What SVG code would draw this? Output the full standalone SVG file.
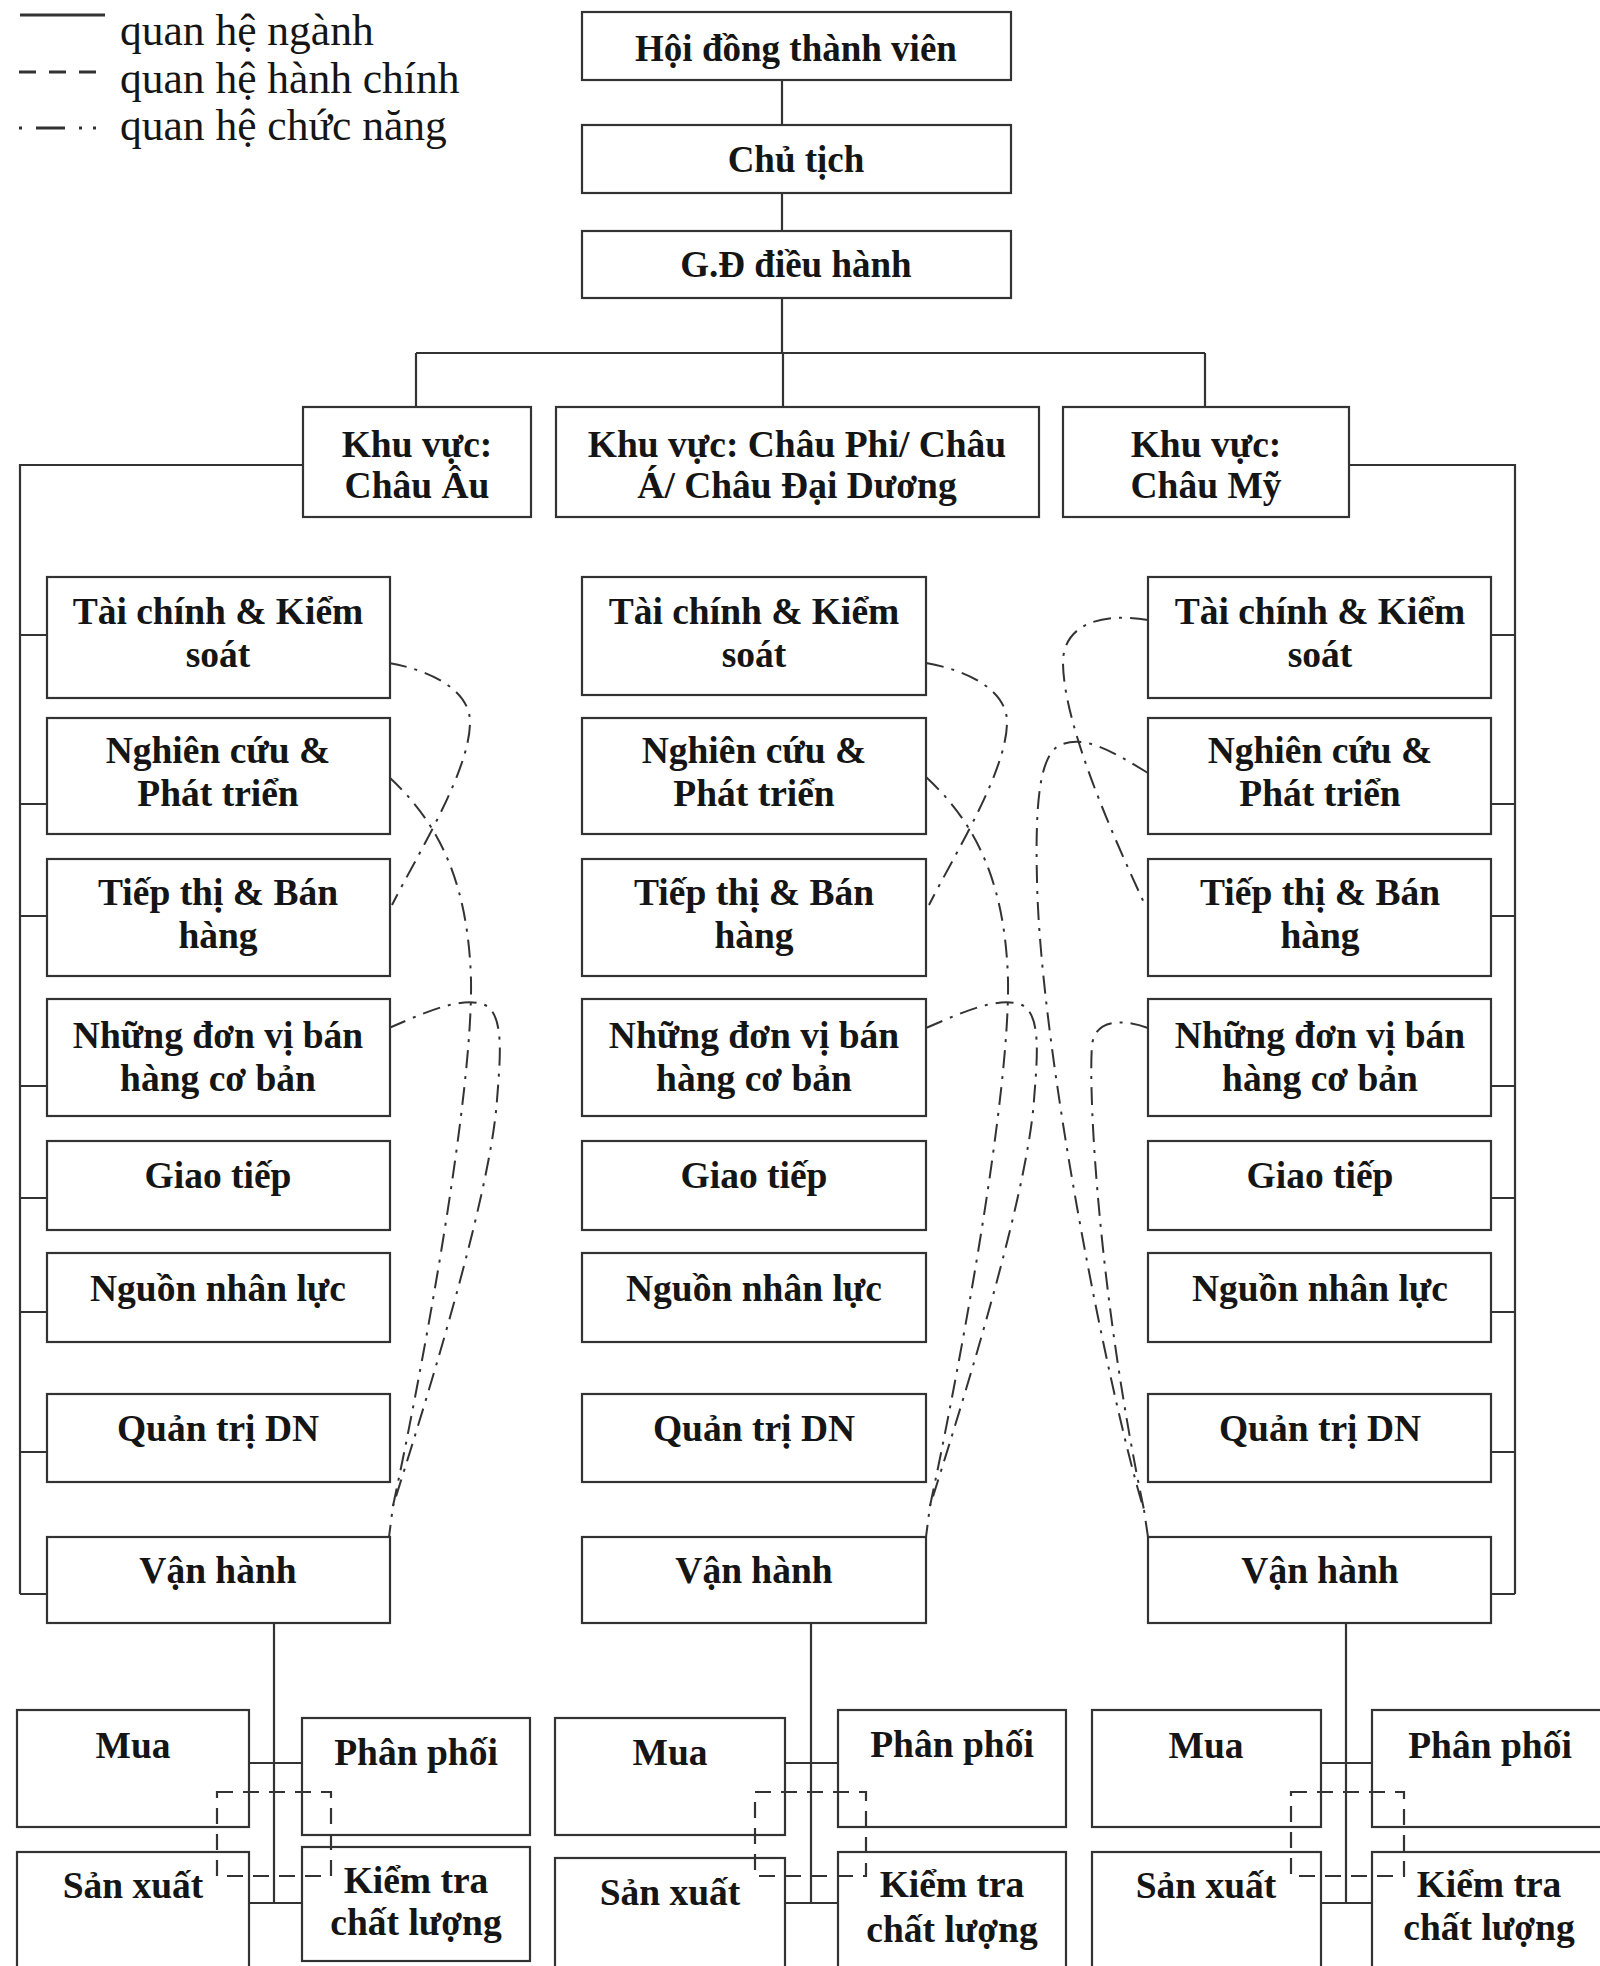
<svg xmlns="http://www.w3.org/2000/svg" width="1600" height="1966" viewBox="0 0 1600 1966">
<style>
.bx{fill:#fff;stroke:#333;stroke-width:2.2}
.t{font-family:"Liberation Serif","Times New Roman",serif;font-weight:bold;font-size:37.5px;fill:#151515;text-anchor:middle}
.tt{font-size:37px}
.lg{font-family:"Liberation Serif","Times New Roman",serif;font-size:43.5px;fill:#151515}
.ln{fill:none;stroke:#333;stroke-width:2.2}
.da{fill:none;stroke:#333;stroke-width:2.2;stroke-dasharray:16 10}
.dd{fill:none;stroke:#333;stroke-width:2;stroke-dasharray:18 8 3 8}
</style>
<rect width="1600" height="1966" fill="#fff"/>
<g id="legend">
<line x1="20" y1="15" x2="105" y2="15" stroke="#333" stroke-width="3"/>
<text class="lg" x="120" y="45">quan hệ ngành</text>
<line x1="19" y1="72" x2="97" y2="72" stroke="#333" stroke-width="3" stroke-dasharray="17 13"/>
<text class="lg" x="120" y="93">quan hệ hành chính</text>
<line x1="19" y1="128" x2="100" y2="128" stroke="#333" stroke-width="3" stroke-dasharray="3 14 29 14 3 11 3 100"/>
<text class="lg" x="120" y="140">quan hệ chức năng</text>
</g>
<g id="connectors">
<path class="ln" d="M782,80V125M782,193V231M782,298V353M416,353H1205M416,353V407M783,353V407M1205,353V407"/>
<path class="ln" d="M303,465H20V1594M20,635H47M20,804H47M20,916H47M20,1086H47M20,1198H47M20,1312H47M20,1452H47M20,1594H47"/>
<path class="ln" d="M1349,465H1515V1594M1515,635H1491M1515,804H1491M1515,916H1491M1515,1086H1491M1515,1198H1491M1515,1312H1491M1515,1452H1491M1515,1594H1491"/>
<path class="ln" d="M274,1623V1903M249,1763H302M249,1903H302"/>
<path class="ln" d="M811,1623V1903M785,1763H838M785,1903H838"/>
<path class="ln" d="M1346,1623V1903M1321,1763H1372M1321,1903H1372"/>
<g id="func-left">
<path class="dd" d="M389,663C430,670 470,690 470,722C470,770 420,850 392,905"/>
<path class="dd" d="M389,777C430,815 468,870 471,980C473,1100 420,1380 393,1506L389,1537"/>
<path class="dd" d="M389,1028C420,1015 460,995 485,1005C505,1015 500,1060 497,1100C490,1200 420,1420 393,1506"/>
</g>
<g id="func-mid">
<path class="dd" d="M926,663C967,670 1007,690 1007,722C1007,770 957,850 929,905"/>
<path class="dd" d="M926,777C967,815 1005,870 1008,980C1010,1100 957,1380 930,1506L926,1537"/>
<path class="dd" d="M926,1028C957,1015 997,995 1022,1005C1042,1015 1037,1060 1034,1100C1027,1200 957,1420 930,1506"/>
</g>
<g id="func-right">
<path class="dd" d="M1148,620C1100,612 1065,625 1063,660C1062,720 1110,830 1146,907"/>
<path class="dd" d="M1148,773C1110,750 1085,735 1060,745C1040,755 1035,800 1037,880C1040,1050 1110,1400 1144,1510L1148,1537"/>
<path class="dd" d="M1148,1028C1120,1018 1095,1020 1092,1045C1088,1100 1100,1300 1144,1510"/>
</g>
</g>
<g id="n-hdtv"><rect class="bx" x="582" y="12" width="429" height="68"/><text class="t tt" x="796" y="61">Hội đồng thành viên</text></g>
<g id="n-chutich"><rect class="bx" x="582" y="125" width="429" height="68"/><text class="t tt" x="796" y="172">Chủ tịch</text></g>
<g id="n-gd"><rect class="bx" x="582" y="231" width="429" height="67"/><text class="t tt" x="796" y="277">G.Đ điều hành</text></g>
<g id="n-chauau"><rect class="bx" x="303" y="407" width="228" height="110"/><text class="t" x="417" y="457">Khu vực:</text><text class="t" x="417" y="498">Châu Âu</text></g>
<g id="n-chauphi"><rect class="bx" x="556" y="407" width="483" height="110"/><text class="t" x="797" y="457">Khu vực: Châu Phi/ Châu</text><text class="t" x="797" y="498">Á/ Châu Đại Dương</text></g>
<g id="n-chaumy"><rect class="bx" x="1063" y="407" width="286" height="110"/><text class="t" x="1206" y="457">Khu vực:</text><text class="t" x="1206" y="498">Châu Mỹ</text></g>
<g id="col-left">
<g id="L1"><rect class="bx" x="47" y="577" width="343" height="121"/><text class="t" x="218" y="624">Tài chính &amp; Kiểm</text><text class="t" x="218" y="667">soát</text></g>
<g id="L2"><rect class="bx" x="47" y="718" width="343" height="116"/><text class="t" x="218" y="763">Nghiên cứu &amp;</text><text class="t" x="218" y="806">Phát triển</text></g>
<g id="L3"><rect class="bx" x="47" y="859" width="343" height="117"/><text class="t" x="218" y="905">Tiếp thị &amp; Bán</text><text class="t" x="218" y="948">hàng</text></g>
<g id="L4"><rect class="bx" x="47" y="999" width="343" height="117"/><text class="t" x="218" y="1048">Những đơn vị bán</text><text class="t" x="218" y="1091">hàng cơ bản</text></g>
<g id="L5"><rect class="bx" x="47" y="1141" width="343" height="89"/><text class="t" x="218" y="1188">Giao tiếp</text></g>
<g id="L6"><rect class="bx" x="47" y="1253" width="343" height="89"/><text class="t" x="218" y="1301">Nguồn nhân lực</text></g>
<g id="L7"><rect class="bx" x="47" y="1394" width="343" height="88"/><text class="t" x="218" y="1441">Quản trị DN</text></g>
<g id="L8"><rect class="bx" x="47" y="1537" width="343" height="86"/><text class="t" x="218" y="1583">Vận hành</text></g>
</g>
<g id="col-mid">
<g id="M1"><rect class="bx" x="582" y="577" width="344" height="118"/><text class="t" x="754" y="624">Tài chính &amp; Kiểm</text><text class="t" x="754" y="667">soát</text></g>
<g id="M2"><rect class="bx" x="582" y="718" width="344" height="116"/><text class="t" x="754" y="763">Nghiên cứu &amp;</text><text class="t" x="754" y="806">Phát triển</text></g>
<g id="M3"><rect class="bx" x="582" y="859" width="344" height="117"/><text class="t" x="754" y="905">Tiếp thị &amp; Bán</text><text class="t" x="754" y="948">hàng</text></g>
<g id="M4"><rect class="bx" x="582" y="999" width="344" height="117"/><text class="t" x="754" y="1048">Những đơn vị bán</text><text class="t" x="754" y="1091">hàng cơ bản</text></g>
<g id="M5"><rect class="bx" x="582" y="1141" width="344" height="89"/><text class="t" x="754" y="1188">Giao tiếp</text></g>
<g id="M6"><rect class="bx" x="582" y="1253" width="344" height="89"/><text class="t" x="754" y="1301">Nguồn nhân lực</text></g>
<g id="M7"><rect class="bx" x="582" y="1394" width="344" height="88"/><text class="t" x="754" y="1441">Quản trị DN</text></g>
<g id="M8"><rect class="bx" x="582" y="1537" width="344" height="86"/><text class="t" x="754" y="1583">Vận hành</text></g>
</g>
<g id="col-right">
<g id="R1"><rect class="bx" x="1148" y="577" width="343" height="121"/><text class="t" x="1320" y="624">Tài chính &amp; Kiểm</text><text class="t" x="1320" y="667">soát</text></g>
<g id="R2"><rect class="bx" x="1148" y="718" width="343" height="116"/><text class="t" x="1320" y="763">Nghiên cứu &amp;</text><text class="t" x="1320" y="806">Phát triển</text></g>
<g id="R3"><rect class="bx" x="1148" y="859" width="343" height="117"/><text class="t" x="1320" y="905">Tiếp thị &amp; Bán</text><text class="t" x="1320" y="948">hàng</text></g>
<g id="R4"><rect class="bx" x="1148" y="999" width="343" height="117"/><text class="t" x="1320" y="1048">Những đơn vị bán</text><text class="t" x="1320" y="1091">hàng cơ bản</text></g>
<g id="R5"><rect class="bx" x="1148" y="1141" width="343" height="89"/><text class="t" x="1320" y="1188">Giao tiếp</text></g>
<g id="R6"><rect class="bx" x="1148" y="1253" width="343" height="89"/><text class="t" x="1320" y="1301">Nguồn nhân lực</text></g>
<g id="R7"><rect class="bx" x="1148" y="1394" width="343" height="88"/><text class="t" x="1320" y="1441">Quản trị DN</text></g>
<g id="R8"><rect class="bx" x="1148" y="1537" width="343" height="86"/><text class="t" x="1320" y="1583">Vận hành</text></g>
</g>
<g id="ops-left">
<g id="LA"><rect class="bx" x="17" y="1710" width="232" height="117"/><text class="t" x="133" y="1758">Mua</text></g>
<g id="LB"><rect class="bx" x="302" y="1718" width="228" height="117"/><text class="t" x="416" y="1765">Phân phối</text></g>
<g id="LC"><rect class="bx" x="17" y="1852" width="232" height="125"/><text class="t" x="133" y="1898">Sản xuất</text></g>
<g id="LD"><rect class="bx" x="302" y="1847" width="228" height="114"/><text class="t" x="416" y="1893">Kiểm tra</text><text class="t" x="416" y="1935">chất lượng</text></g>
</g>
<g id="ops-mid">
<g id="MA"><rect class="bx" x="555" y="1718" width="230" height="117"/><text class="t" x="670" y="1765">Mua</text></g>
<g id="MB"><rect class="bx" x="838" y="1710" width="228" height="117"/><text class="t" x="952" y="1757">Phân phối</text></g>
<g id="MC"><rect class="bx" x="555" y="1858" width="230" height="120"/><text class="t" x="670" y="1905">Sản xuất</text></g>
<g id="MD"><rect class="bx" x="838" y="1852" width="228" height="126"/><text class="t" x="952" y="1897">Kiểm tra</text><text class="t" x="952" y="1942">chất lượng</text></g>
</g>
<g id="ops-right">
<g id="RA"><rect class="bx" x="1092" y="1710" width="229" height="117"/><text class="t" x="1206" y="1758">Mua</text></g>
<g id="RB"><rect class="bx" x="1372" y="1710" width="240" height="117"/><text class="t" x="1490" y="1758">Phân phối</text></g>
<g id="RC"><rect class="bx" x="1092" y="1852" width="229" height="126"/><text class="t" x="1206" y="1898">Sản xuất</text></g>
<g id="RD"><rect class="bx" x="1372" y="1852" width="240" height="126"/><text class="t" x="1489" y="1897">Kiểm tra</text><text class="t" x="1489" y="1940">chất lượng</text></g>
</g>
<g id="admin-links">
<rect class="da" x="217" y="1792" width="114" height="84"/>
<rect class="da" x="755" y="1792" width="111" height="84"/>
<rect class="da" x="1291" y="1792" width="113" height="84"/>
</g>
</svg>
